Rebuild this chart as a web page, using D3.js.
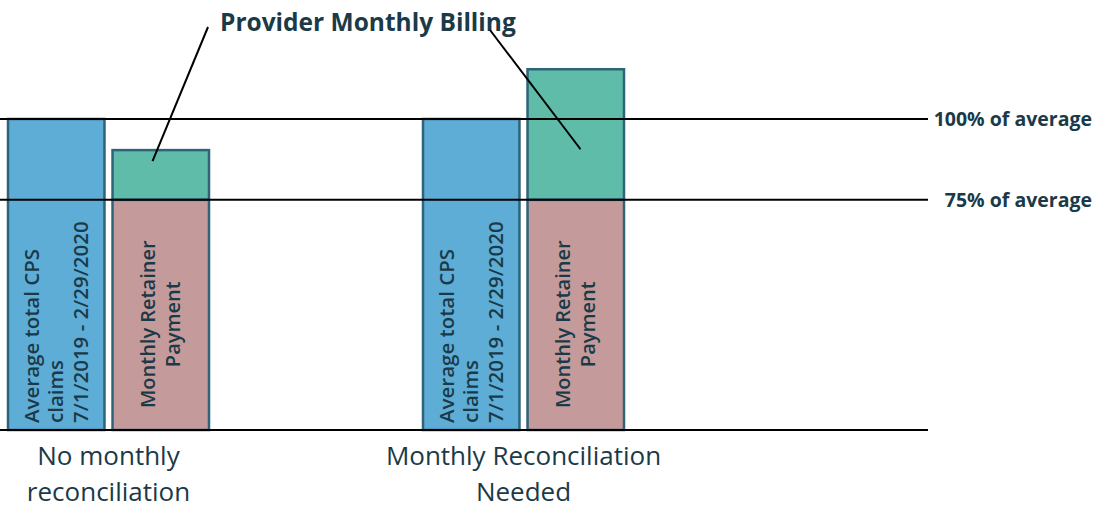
<!DOCTYPE html>
<html lang="en">
<head>
<meta charset="UTF-8">
<title>Provider Monthly Billing</title>
<script src="https://d3js.org/d3.v7.min.js"></script>
<style>
  body { margin: 0; background: #fff; }
  text { font-family: "Open Sans", sans-serif; fill: #1b3a48; }
</style>
</head>
<body>
<script>
// data
var groups = ["No monthly reconciliation", "Monthly Reconciliation Needed"];
var groupLines = [["No monthly", "reconciliation"], ["Monthly Reconciliation", "Needed"]];
var averageClaims = [100, 100];
var retainer = [74, 74];
var billing = [90, 116];
var refValues = [100, 74];
var refLabels = ["100% of average", "75% of average"];
var claimsText = ["Average total CPS", "claims", "7/1/2019 - 2/29/2020"];
var retainerText = ["Monthly Retainer", "Payment"];
var title = "Provider Monthly Billing";

var w = 1097, h = 510;

var svg = d3.select("body").append("svg")
  .attr("width", w)
  .attr("height", h);

var y = d3.scaleLinear().domain([0, 100]).range([430, 119]);
var xg = d3.scaleBand().domain(groups).range([8, 838]);
var xi = d3.scaleBand().domain(["claims", "pay"]).range([0, 201]).paddingInner(0.077);

var stroke = "#2e6379";

// bars
var g = svg.selectAll("g.grp")
  .data(groups)
  .enter().append("g")
  .attr("class", "grp")
  .attr("transform", function(d) { return "translate(" + xg(d) + ",0)"; });

g.append("rect")
  .attr("x", xi("claims"))
  .attr("y", function(d, i) { return y(averageClaims[i]); })
  .attr("width", xi.bandwidth())
  .attr("height", function(d, i) { return y(0) - y(averageClaims[i]); })
  .attr("fill", "#5eadd6")
  .attr("stroke", stroke)
  .attr("stroke-width", 2.5);

g.append("rect")
  .attr("x", xi("pay"))
  .attr("y", function(d, i) { return y(billing[i]); })
  .attr("width", xi.bandwidth())
  .attr("height", function(d, i) { return y(retainer[i]) - y(billing[i]); })
  .attr("fill", "#5fbca8")
  .attr("stroke", stroke)
  .attr("stroke-width", 2.5);

g.append("rect")
  .attr("x", xi("pay"))
  .attr("y", function(d, i) { return y(retainer[i]); })
  .attr("width", xi.bandwidth())
  .attr("height", function(d, i) { return y(0) - y(retainer[i]); })
  .attr("fill", "#c59a9a")
  .attr("stroke", stroke)
  .attr("stroke-width", 2.5);

// rotated labels inside bars
g.each(function() {
  var gg = d3.select(this);
  var cx = xi("claims") + xi.bandwidth() / 2;
  var t1 = gg.append("text")
    .attr("transform", "translate(" + cx + "," + (y(0) - 7) + ") rotate(-90)")
    .attr("text-anchor", "start")
    .attr("font-size", 20.5)
    .attr("font-weight", 600);
  claimsText.forEach(function(s, k) {
    t1.append("tspan").attr("x", 0).attr("y", (k - 1) * 24.5 + 7).text(s);
  });
  var px = xi("pay") + xi.bandwidth() / 2;
  var t2 = gg.append("text")
    .attr("transform", "translate(" + px + "," + y(34) + ") rotate(-90)")
    .attr("text-anchor", "middle")
    .attr("font-size", 20)
    .attr("font-weight", 600);
  retainerText.forEach(function(s, k) {
    t2.append("tspan").attr("x", 0).attr("y", (k - 0.5) * 25 + 7).text(s);
  });
});

// reference lines
svg.selectAll("line.ref")
  .data(refValues)
  .enter().append("line")
  .attr("x1", 0)
  .attr("x2", 928)
  .attr("y1", function(d) { return y(d); })
  .attr("y2", function(d) { return y(d); })
  .attr("stroke", "#000")
  .attr("stroke-width", 2);

svg.selectAll("text.ref")
  .data(refValues)
  .enter().append("text")
  .attr("x", 1092)
  .attr("y", function(d) { return y(d) + 7; })
  .attr("text-anchor", "end")
  .attr("font-size", 19.5)
  .attr("font-weight", "bold")
  .text(function(d, i) { return refLabels[i]; });

// baseline
svg.append("line")
  .attr("x1", 0).attr("x2", 928)
  .attr("y1", y(0)).attr("y2", y(0))
  .attr("stroke", "#000")
  .attr("stroke-width", 2);

// group labels
groups.forEach(function(d, i) {
  var cx = xg(d) + xi.range()[1] / 2;
  var t = svg.append("text")
    .attr("text-anchor", "middle")
    .attr("font-size", 26);
  groupLines[i].forEach(function(s, k) {
    t.append("tspan").attr("x", cx).attr("y", 465 + k * 36).text(s);
  });
});

// title and leader lines
svg.append("text")
  .attr("x", 220)
  .attr("y", 31)
  .attr("font-size", 24.5)
  .attr("font-weight", "bold")
  .text(title);

var leaders = [
  [208, 27, xg(groups[0]) + xi("pay") + 40, y(billing[0]) + 11],
  [490, 30, xg(groups[1]) + xi("pay") + 53, y(billing[1]) + 80]
];
svg.selectAll("line.lead")
  .data(leaders)
  .enter().append("line")
  .attr("x1", function(d) { return d[0]; })
  .attr("y1", function(d) { return d[1]; })
  .attr("x2", function(d) { return d[2]; })
  .attr("y2", function(d) { return d[3]; })
  .attr("stroke", "#000")
  .attr("stroke-width", 2);
</script>
</body>
</html>
